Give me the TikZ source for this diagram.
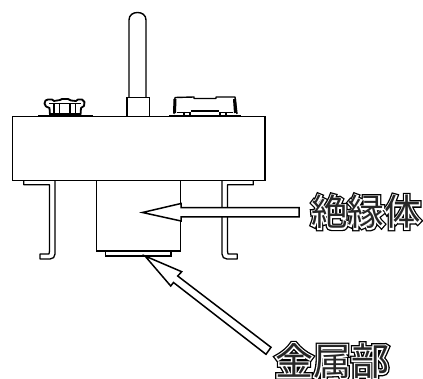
\documentclass[tikz,border=0pt]{standalone}
\usepackage{fontspec}
\newfontfamily\jpbig[FakeBold=14]{Noto Sans CJK JP}
\newfontfamily\jpmid[FakeBold=7]{Noto Sans CJK JP}
\newfontfamily\jpthin{Noto Sans CJK JP}
\newcommand{\outlinedtext}[2]{%
  \fontsize{#1}{#1}\selectfont
  \rlap{\color{black}\jpbig #2}%
  \rlap{\color{white}\jpmid #2}%
  {\color{black!85}\jpthin #2}}
\tikzset{
  part/.style={draw=black,line width=1.4pt,fill=white,line join=miter},
  bracketline/.style={draw=black,line width=1.3pt,fill=white,line join=round},
  callout/.style={draw=black,line width=1.5pt,fill=white,line join=miter},
  label text/.style={inner sep=0pt,anchor=center}
}
\begin{document}
\begin{tikzpicture}[x=1pt,y=-1pt]
\useasboundingbox (0,0) rectangle (423,379);
\clip (0,0) rectangle (423,379);
% rod
\draw[part] (129,98) -- (129,20) .. controls (129,15) and (133,12.5) .. (137.5,12.5) .. controls (142,12.5) and (146,15) .. (146,20) -- (146,98);
\draw[part] (127,116) -- (127,97.5) -- (149.5,97.5) -- (149.5,116);
% nut
\draw[line width=1.8pt,fill=white,line join=round] (50,115) -- (49.5,108) -- (46,106.5) -- (44.5,103.5) -- (45.5,100.5) -- (48,99.5) -- (52,99.5) -- (54,101) -- (60,100) -- (62,99) -- (68,99) -- (71,100.5) -- (76,101) -- (78,99.5) -- (82,99.5) -- (84.5,102) -- (84,106) -- (81,108) -- (80.5,115);
\draw[line width=1.6pt] (38,116) -- (93,116);
\draw[line width=1.5pt] (50,114) -- (80,114);
\foreach \x in {54,59.5,70,75.5}{\draw[line width=1.5pt] (\x,103) -- (\x,114);}
\draw[line width=1.3pt] (49,103.5) -- (81,103.5);
% switch
\draw[line width=1.4pt,fill=white,line join=round] (174,114) -- (175,97.5) -- (194,97) -- (194,98.5) -- (216,98.5) -- (216,97) -- (235,97) -- (237,114);
\draw[line width=3pt] (175,99) -- (174.5,113);
\draw[line width=3pt] (234.5,99) -- (235.5,113);
\draw[line width=2.2pt] (191,111) -- (219,111);
\draw[line width=1.6pt] (169,116) -- (241,116);
\foreach \x in {184,190,220,226}{\draw[line width=1.2pt] (\x,112) -- (\x,116);}
\draw[line width=1.2pt] (177,112.5) -- (190,112.5) (220,112.5) -- (233,112.5);
% brackets
\draw[bracketline] (23.8,181) -- (23.8,184.8) -- (49.5,184.8) -- (49.5,251) -- (49,254) -- (40,254) -- (40,259) -- (50,259) .. controls (53,259) and (55,257) .. (55,254) -- (55,181);
\draw[bracketline] (253.3,181) -- (253.3,184.8) -- (227.5,184.8) -- (227.5,251) -- (228,254) -- (237.3,254) -- (237.3,259) -- (227,259) .. controls (224,259) and (222,257) .. (222,254) -- (222,181);
% body
\draw[part] (12.5,116.5) rectangle (265,180.5);
% insulator and metal part
\draw[part] (96.5,180.5) rectangle (180.5,251);
\draw[part] (105.5,251) rectangle (171,256);
% arrows
\draw[callout] (142.5,212.5) -- (181,203.5) -- (181,207.7) -- (299,207.7) -- (299,217) -- (181,217) -- (181,221) -- cycle;
\draw[callout] (145,256) -- (181.7,271.7) -- (177.7,276) -- (271,347.3) -- (266,354.3) -- (173.5,282.5) -- (170.7,286) -- cycle;
% labels
\node[label text] (insulator) at (366,212) {\outlinedtext{36.5}{絶縁体}};
\node[label text] (metal) at (332,361) {\outlinedtext{38}{金属部}};
\end{tikzpicture}
\end{document}
